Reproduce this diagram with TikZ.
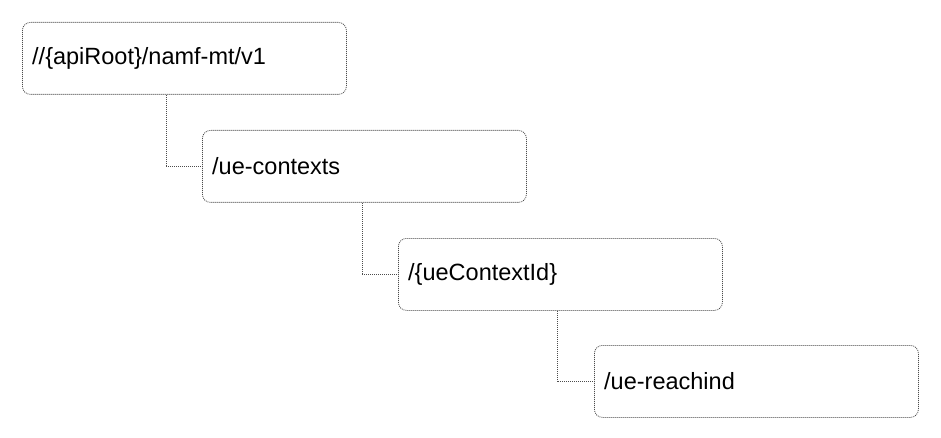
\documentclass[tikz,border=0pt]{standalone}
\usepackage{fontspec}
\setmainfont{Liberation Sans}
\begin{document}
\begin{tikzpicture}[x=1pt,y=-1pt,
  res/.style={draw=black!70, line width=0.8pt, dash pattern=on 1pt off 1pt, rounded corners=8pt,
    minimum width=324pt, minimum height=72pt, anchor=north west, inner sep=0pt},
  lbl/.style={anchor=west, inner sep=0pt, font=\fontsize{23.5}{28}\selectfont},
  conn/.style={draw=black!70, line width=0.8pt, dash pattern=on 1pt off 1pt}]
\useasboundingbox (0,0) rectangle (941,438);
\node[res] (b1) at (22,22) {};
\node[res] (b2) at (202,130) {};
\node[res] (b3) at (398,238) {};
\node[res] (b4) at (594,345) {};
\node[lbl] (t1) at ([xshift=10pt]b1.west) {//\{apiRoot\}/namf-mt/v1};
\node[lbl] (t2) at ([xshift=10pt]b2.west) {/ue-contexts};
\node[lbl] (t3) at ([xshift=10pt]b3.west) {/\{ueContextId\}};
\node[lbl] (t4) at ([xshift=10pt]b4.west) {/ue-reachind};
\path[conn] (b1.south west) ++(144,0) coordinate (c1) |- (b2.west);
\path[conn] (b2.south west) ++(160,0) coordinate (c2) |- (b3.west);
\path[conn] (b3.south west) ++(159,0) coordinate (c3) |- (b4.west);
\end{tikzpicture}
\end{document}
